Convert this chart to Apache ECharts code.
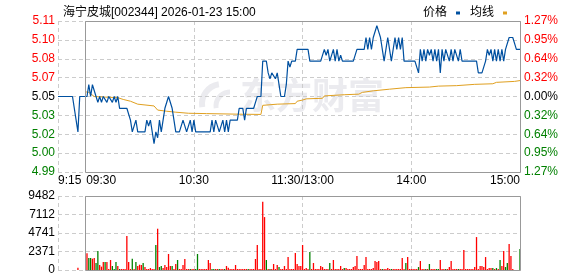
<!DOCTYPE html>
<html><head><meta charset="utf-8">
<script src="https://cdn.jsdelivr.net/npm/echarts@6/dist/echarts.min.js"></script>
<style>html,body{margin:0;padding:0;background:#fff}#c{width:578px;height:276px}</style>
</head><body><div id="c"></div>
<script>
const titleText = '海宁皮城[002344] 2026-01-23 15:00';
const seriesNames = ['价格', '均线'];
// tick labels (bottom -> top)
const priceLabels = ['4.99', '5.00', '5.02', '5.03', '5.05', '5.07', '5.08', '5.10', '5.11'];
const pctLabels = ['1.27%', '0.95%', '0.64%', '0.32%', '0.00%', '0.32%', '0.64%', '0.95%', '1.27%'];
const volLabels = ['0', '2371', '4741', '7112', '9482'];
const timeLabelIndex = [0, 15, 75, 135, 195, 255];
const timeLabelText = ['9:15', '09:30', '10:30', '11:30/13:00', '14:00', '15:00'];
const priceMin = 4.986, priceMax = 5.114, volMax = 9482;

// minute categories 09:15..11:30, 13:01..15:00
const categories = [];
function pushRange(a, b) { for (let t = a; t <= b; t++) categories.push(String(Math.floor(t / 60)).padStart(2, '0') + ':' + String(t % 60).padStart(2, '0')); }
pushRange(9 * 60 + 15, 11 * 60 + 30); pushRange(13 * 60 + 1, 15 * 60);

const price = [
  5.05, 5.05, 5.05, 5.05, 5.05, 5.05, 5.05, 5.05, 5.05, 5.05,
  5.03, 5.02, 5.05, 5.05, 5.05, 5.05, 5.05, 5.06, 5.05, 5.06,
  5.06, 5.05, 5.045, 5.05, 5.045, 5.05, 5.05, 5.045, 5.05, 5.05,
  5.045, 5.05, 5.045, 5.05, 5.04, 5.04, 5.04, 5.04, 5.04, 5.04,
  5.03, 5.02, 5.02, 5.03, 5.02, 5.02, 5.02, 5.02, 5.02, 5.03,
  5.025, 5.03, 5.02, 5.01, 5.02, 5.015, 5.03, 5.02, 5.03, 5.04,
  5.04, 5.05, 5.05, 5.04, 5.03, 5.02, 5.02, 5.02, 5.02, 5.03,
  5.03, 5.02, 5.02, 5.03, 5.02, 5.03, 5.02, 5.02, 5.02, 5.02,
  5.02, 5.02, 5.02, 5.02, 5.02, 5.03, 5.02, 5.03, 5.03, 5.02,
  5.02, 5.03, 5.02, 5.03, 5.02, 5.03, 5.03, 5.03, 5.03, 5.03,
  5.04, 5.04, 5.04, 5.03, 5.04, 5.04, 5.04, 5.04, 5.04, 5.045,
  5.05, 5.05, 5.05, 5.08, 5.08, 5.08, 5.07, 5.065, 5.07, 5.07,
  5.065, 5.07, 5.06, 5.05, 5.05, 5.05, 5.06, 5.08, 5.075, 5.08,
  5.08, 5.08, 5.09, 5.09, 5.09, 5.09, 5.09, 5.09, 5.09, 5.08,
  5.08, 5.08, 5.08, 5.08, 5.08, 5.08, 5.08, 5.09, 5.085, 5.09,
  5.08, 5.08, 5.09, 5.08, 5.09, 5.08, 5.085, 5.08, 5.08, 5.08,
  5.08, 5.08, 5.08, 5.08, 5.08, 5.09, 5.09, 5.09, 5.09, 5.09,
  5.10, 5.09, 5.10, 5.09, 5.10, 5.10, 5.11, 5.105, 5.10, 5.09,
  5.08, 5.09, 5.10, 5.09, 5.08, 5.09, 5.10, 5.09, 5.10, 5.09,
  5.10, 5.08, 5.08, 5.08, 5.08, 5.08, 5.08, 5.08, 5.08, 5.07,
  5.09, 5.08, 5.09, 5.08, 5.09, 5.085, 5.09, 5.08, 5.09, 5.08,
  5.09, 5.07, 5.09, 5.08, 5.09, 5.09, 5.08, 5.09, 5.08, 5.09,
  5.09, 5.08, 5.09, 5.08, 5.08, 5.08, 5.08, 5.08, 5.08, 5.08,
  5.08, 5.08, 5.07, 5.07, 5.07, 5.07, 5.08, 5.09, 5.085, 5.09,
  5.08, 5.09, 5.08, 5.09, 5.08, 5.09, 5.08, 5.09, 5.09, 5.10,
  5.10, 5.10, 5.095, 5.09, 5.09, 5.09
];

// average line read at its break points: [minute index, value]
const avgPoints = [
  [15, 5.054], [17, 5.0535], [20, 5.050], [26, 5.0495], [33, 5.049], [36, 5.0475],
  [40, 5.046], [44, 5.0435], [53, 5.042], [55, 5.0385], [60, 5.0375], [65, 5.0367],
  [72, 5.0358], [82, 5.0355], [100, 5.035], [112, 5.0348], [113, 5.0425], [121, 5.0435],
  [131, 5.044], [132, 5.046], [135, 5.047], [137, 5.048], [146, 5.0485], [147, 5.0505],
  [158, 5.0515], [166, 5.052], [168, 5.0535], [174, 5.0548], [183, 5.0562], [192, 5.0575],
  [205, 5.058], [210, 5.0588], [220, 5.0592], [230, 5.0603], [240, 5.0608], [242, 5.062],
  [252, 5.0628], [255, 5.0635]
];

const volume = [
  0, 0, 0, 0, 0, 0, 0, 0, 0, 0,
  0, 300, 0, 0, 0, 0, 2140, 1540, 1540, 1450,
  1540, 900, 2430, 640, 430, 1020, 1020, 1020, 130, 1280,
  510, 130, 1020, 510, 130, 130, 130, 130, 4350, 1020,
  130, 1450, 130, 1020, 510, 680, 640, 900, 380, 130,
  130, 250, 130, 130, 3200, 5290, 380, 510, 250, 640,
  380, 2050, 510, 510, 130, 770, 1280, 130, 130, 640,
  1410, 130, 130, 130, 130, 130, 130, 2050, 130, 130,
  130, 130, 130, 1280, 900, 130, 130, 130, 130, 130,
  130, 130, 130, 510, 300, 130, 130, 130, 640, 130,
  130, 130, 130, 130, 130, 130, 130, 130, 130, 1410,
  3200, 130, 130, 8750, 6780, 1280, 130, 130, 130, 770,
  130, 640, 380, 130, 130, 510, 130, 1660, 130, 130,
  130, 2180, 770, 510, 510, 3200, 130, 250, 130, 2300,
  130, 900, 130, 130, 130, 510, 380, 130, 130, 130,
  900, 130, 1280, 130, 130, 130, 510, 130, 250, 250,
  130, 130, 130, 380, 510, 1790, 130, 130, 130, 640,
  1660, 130, 130, 130, 250, 1150, 1020, 1150, 130, 130,
  130, 130, 250, 130, 130, 130, 130, 130, 130, 130,
  1540, 130, 900, 1660, 130, 130, 130, 130, 130, 380,
  1150, 130, 130, 130, 130, 770, 130, 130, 130, 130,
  130, 1280, 130, 130, 130, 130, 380, 1150, 130, 130,
  130, 130, 130, 130, 2560, 130, 130, 130, 130, 130,
  380, 4220, 130, 510, 510, 380, 1660, 130, 250, 250,
  250, 130, 250, 130, 1280, 510, 2430, 380, 900, 3330,
  1790, 130, 0, 0, 0, 2690
];
// r = up (red), g = down (green), . = none
const volSide = [
  '..........', '.r....rggr', 'rggrrrgrrr', 'gggrgrrrrr', 'rgrgrrrgrr',
  'rrrrgrggrr', 'rrrgrrgrrr', 'rrrgrrggrr', 'rrrrrggrrg', 'rrgrrrrrrr',
  'rrrrrgrrrr', 'rrrrrgrgrr', 'rrgrrrrrrr', 'rrrrrrrrrg', 'rrrrrrrrrr',
  'grrrrrrrgr', 'rrrrrrrrrr', 'rrrrrrrrrg', 'rrrrgrrrrr', 'rrgrrrrrrg',
  'rrrgrgrrrg', 'grrrgrrrrr', 'rgrrrrrrrr', 'rrrrrrrrrr', 'grgrgrrggr',
  'rr...g'
].join('');

const FONT = "'Liberation Sans', 'Noto Sans CJK SC', sans-serif";
const GRID_LINE = { show: true, lineStyle: { color: '#cccccc', type: [4, 3], width: 1 } };
const splitIdx = (i) => timeLabelIndex.indexOf(i) >= 0;

const chart = echarts.init(document.getElementById('c'), null, { renderer: 'canvas' });
const option = {
  animation: false,
  backgroundColor: '#ffffff',
  textStyle: { fontFamily: FONT },
  title: {
    text: titleText, left: 58, top: 2,
    textStyle: { fontSize: 12, fontWeight: 'normal', color: '#000', fontFamily: FONT }
  },
  legend: {
    data: seriesNames, right: 66, top: 2, align: 'right', itemGap: 10,
    itemWidth: 4, itemHeight: 3, icon: 'rect',
    textStyle: { fontSize: 12, color: '#000', fontFamily: FONT, padding: [0, 4, 0, 0] }
  },
  grid: [
    { left: 58, right: 58, top: 21, height: 151 },
    { left: 58, right: 58, top: 196, height: 74 }
  ],
  xAxis: [
    {
      type: 'category', gridIndex: 0, data: categories, boundaryGap: false,
      axisLine: { show: false }, axisTick: { show: false },
      splitLine: Object.assign({ interval: splitIdx }, GRID_LINE),
      axisLabel: {
        interval: splitIdx, margin: 3, fontSize: 12, color: '#000', fontFamily: FONT,
        alignMinLabel: 'left', alignMaxLabel: 'right', showMinLabel: true, showMaxLabel: true,
        formatter: (v, i) => {
          const k = timeLabelIndex.indexOf(i);
          if (k < 0) return '';
          if (i === 15) return '{p|' + timeLabelText[k] + '}';
          return timeLabelText[k];
        },
        rich: { p: { padding: [0, 0, 0, 32], fontSize: 12, color: '#000', fontFamily: FONT } }
      }
    },
    {
      type: 'category', gridIndex: 1, data: categories, boundaryGap: false,
      axisLine: { show: false }, axisTick: { show: false }, axisLabel: { show: false },
      splitLine: Object.assign({ interval: splitIdx }, GRID_LINE)
    }
  ],
  yAxis: [
    {
      type: 'value', gridIndex: 0, position: 'left', min: -4, max: 4, interval: 1,
      axisLine: { show: false }, axisTick: { show: false }, splitLine: GRID_LINE,
      axisLabel: {
        margin: 3, fontSize: 12, fontFamily: FONT,
        formatter: (v) => priceLabels[Math.round(v) + 4],
        color: (v) => (v > 0 ? '#ff0000' : v < 0 ? '#008000' : '#000000')
      }
    },
    {
      type: 'value', gridIndex: 0, position: 'right', min: -4, max: 4, interval: 1,
      axisLine: { show: false }, axisTick: { show: false }, splitLine: { show: false },
      axisLabel: {
        margin: 4, fontSize: 12, fontFamily: FONT,
        formatter: (v) => pctLabels[Math.round(v) + 4],
        color: (v) => (v > 0 ? '#ff0000' : v < 0 ? '#008000' : '#000000')
      }
    },
    {
      type: 'value', gridIndex: 0, show: false, min: priceMin, max: priceMax,
      splitLine: { show: false }
    },
    {
      type: 'value', gridIndex: 1, position: 'left', min: 0, max: volMax, interval: volMax / 4,
      axisLine: { show: false }, axisTick: { show: false }, splitLine: GRID_LINE,
      axisLabel: {
        margin: 3, fontSize: 12, fontFamily: FONT, color: '#000',
        formatter: (v) => volLabels[Math.round(v / (volMax / 4))]
      }
    }
  ],
  series: [
    {
      name: seriesNames[0], type: 'line', xAxisIndex: 0, yAxisIndex: 2, data: price,
      showSymbol: false, symbol: 'none', color: '#0050a0',
      lineStyle: { color: '#0050a0', width: 1.2 }, z: 4
    },
    {
      name: seriesNames[1], type: 'line', xAxisIndex: 0, yAxisIndex: 2, data: avgPoints,
      showSymbol: false, symbol: 'none', color: '#e0a020',
      lineStyle: { color: '#e0a020', width: 1 }, z: 3
    },
    {
      name: '成交量', type: 'bar', xAxisIndex: 1, yAxisIndex: 3, data: volume,
      barWidth: 1.3, large: false,
      itemStyle: { color: (p) => (volSide[p.dataIndex] === 'g' ? '#008000' : '#ff0000') }
    }
  ]
};
chart.setOption(option);

const xa = Math.round(chart.convertToPixel({ xAxisIndex: 0 }, 15));
const xb = Math.round(chart.convertToPixel({ xAxisIndex: 0 }, 255));
const yt = Math.round(chart.convertToPixel({ yAxisIndex: 0 }, 4));
const yb = Math.round(chart.convertToPixel({ yAxisIndex: 0 }, -4));
const vt = Math.round(chart.convertToPixel({ yAxisIndex: 3 }, volMax));
const vb = Math.round(chart.convertToPixel({ yAxisIndex: 3 }, 0));
const WM = '#ebebef';
chart.setOption({
  graphic: [
    { type: 'text', z: -10, silent: true, left: 240, top: 77,
      style: { text: '东方财富', font: "bold 36px 'Noto Sans CJK SC'", fill: WM } },
    { type: 'arc', z: -10, silent: true,
      shape: { cx: 222, cy: 104, r: 20, startAngle: Math.PI * 0.95, endAngle: Math.PI * 1.45 },
      style: { stroke: WM, lineWidth: 6, fill: 'none' } },
    { type: 'arc', z: -10, silent: true,
      shape: { cx: 230, cy: 106, r: 14, startAngle: Math.PI * 0.95, endAngle: Math.PI * 1.5 },
      style: { stroke: WM, lineWidth: 5, fill: 'none' } },
    { type: 'rect', z: 10, silent: true,
      shape: { x: xa + 0.5, y: yt + 0.5, width: xb - xa, height: yb - yt },
      style: { fill: 'none', stroke: '#999999', lineWidth: 1 } },
    { type: 'rect', z: 10, silent: true,
      shape: { x: xa + 0.5, y: vt + 0.5, width: xb - xa, height: vb - vt },
      style: { fill: 'none', stroke: '#999999', lineWidth: 1 } }
  ]
});
</script>
</body></html>
